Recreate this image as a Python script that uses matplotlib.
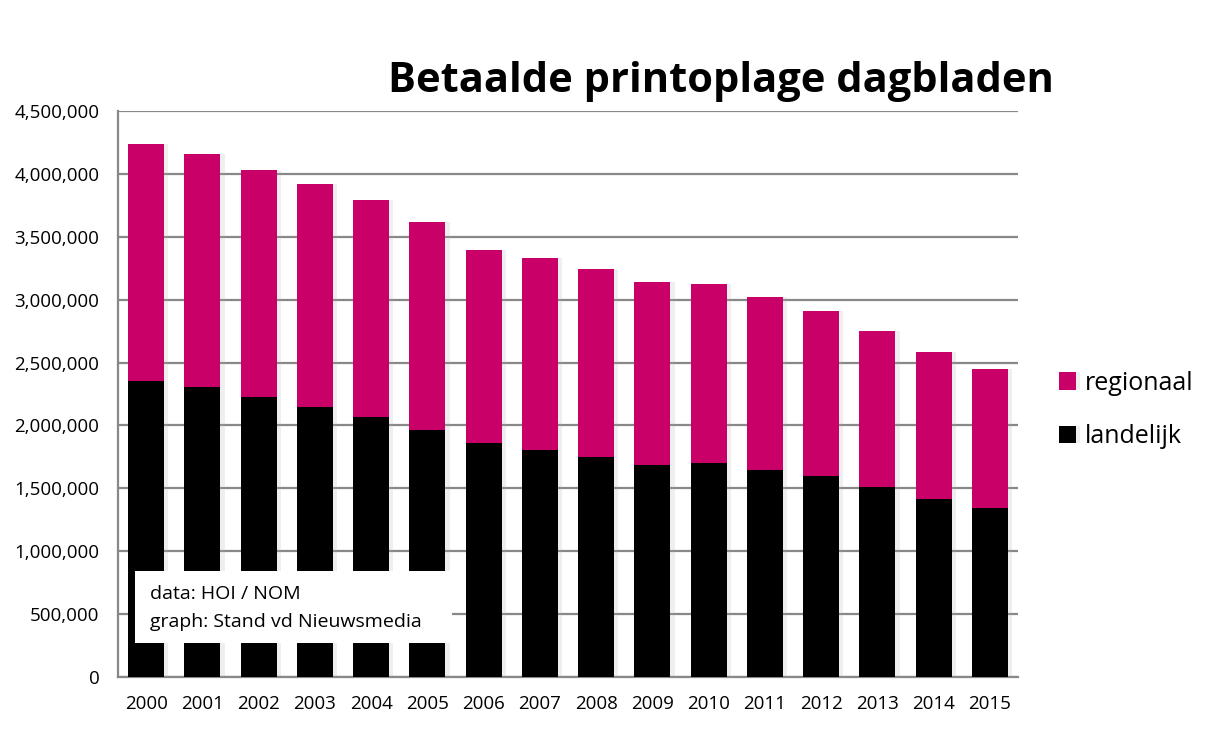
import matplotlib
matplotlib.use("Agg")
import matplotlib.pyplot as plt
import matplotlib.patheffects as pe
from matplotlib.patches import Rectangle
from matplotlib.ticker import FuncFormatter
import numpy as np

years = ["2000", "2001", "2002", "2003", "2004", "2005", "2006", "2007",
         "2008", "2009", "2010", "2011", "2012", "2013", "2014", "2015"]
landelijk = [2355000, 2302000, 2223000, 2143000, 2064000, 1960000, 1857000, 1807000,
             1751000, 1688000, 1704000, 1648000, 1600000, 1513000, 1417000, 1346000]
totaal = [4239000, 4160000, 4033000, 3921000, 3794000, 3617000, 3397000, 3333000,
          3246000, 3142000, 3126000, 3023000, 2912000, 2753000, 2586000, 2451000]
regionaal = [t - l for t, l in zip(totaal, landelijk)]
y_ticks = [0, 500000, 1000000, 1500000, 2000000, 2500000, 3000000, 3500000, 4000000, 4500000]

FONT = ["Open Sans", "DejaVu Sans"]
plt.rcParams['font.family'] = FONT

fig = plt.figure(figsize=(12.19, 7.31), dpi=100)
ax = fig.add_axes([118/1219, 1 - 677/731, 900/1219, 566/731])

x = np.arange(len(years))
w = 0.64
shadow = [pe.SimplePatchShadow(offset=(3, 0), shadow_rgbFace='#aaaaaa', alpha=0.18), pe.Normal()]
b1 = ax.bar(x, landelijk, width=w, color='#000000', label='landelijk', zorder=3)
b2 = ax.bar(x, regionaal, bottom=landelijk, width=w, color='#C80068', label='regionaal', zorder=3)
for p in list(b1) + list(b2):
    p.set_path_effects(shadow)

ax.set_xlim(-0.5, len(years) - 0.5)
ax.set_ylim(0, 4500000)
ax.set_yticks(y_ticks)
ax.yaxis.set_major_formatter(FuncFormatter(lambda v, p: f"{int(v):,}"))
ax.set_xticks(x)
ax.set_xticklabels(years)
ax.tick_params(axis='both', length=0, labelsize=13.5, colors='black')
ax.tick_params(axis='y', pad=13.5)
ax.tick_params(axis='x', pad=13)
ax.grid(axis='y', color='#888888', linewidth=1.6, zorder=0)
ax.set_axisbelow(True)
for s in ['top', 'right']:
    ax.spines[s].set_visible(False)
for s in ['left', 'bottom']:
    ax.spines[s].set_color('#888888')
    ax.spines[s].set_linewidth(1.6)

fig.text(721/1219, 1 - 81/731, "Betaalde printoplage dagbladen", ha='center', va='center',
         fontsize=30, fontweight='bold')

handles = [b2, b1]
leg = fig.legend(handles, ['regionaal', 'landelijk'], loc='center left',
                 bbox_to_anchor=(1036/1219, 1 - 410/731), frameon=False, fontsize=18,
                 handlelength=0.7, handleheight=0.7, handletextpad=0.35, labelspacing=1.15)

ax.add_patch(Rectangle((17/900, 34/566), 317/900, 72/566, transform=ax.transAxes,
                       facecolor='white', edgecolor='none', zorder=5))
ax.text(32/900, (677 - 594)/566, "data: HOI / NOM", transform=ax.transAxes,
        fontsize=14, ha='left', va='center', zorder=6)
ax.text(32/900, (677 - 622)/566, "graph: Stand vd Nieuwsmedia", transform=ax.transAxes,
        fontsize=14, ha='left', va='center', zorder=6)

fig.savefig("out.png", dpi=100, facecolor='white')
